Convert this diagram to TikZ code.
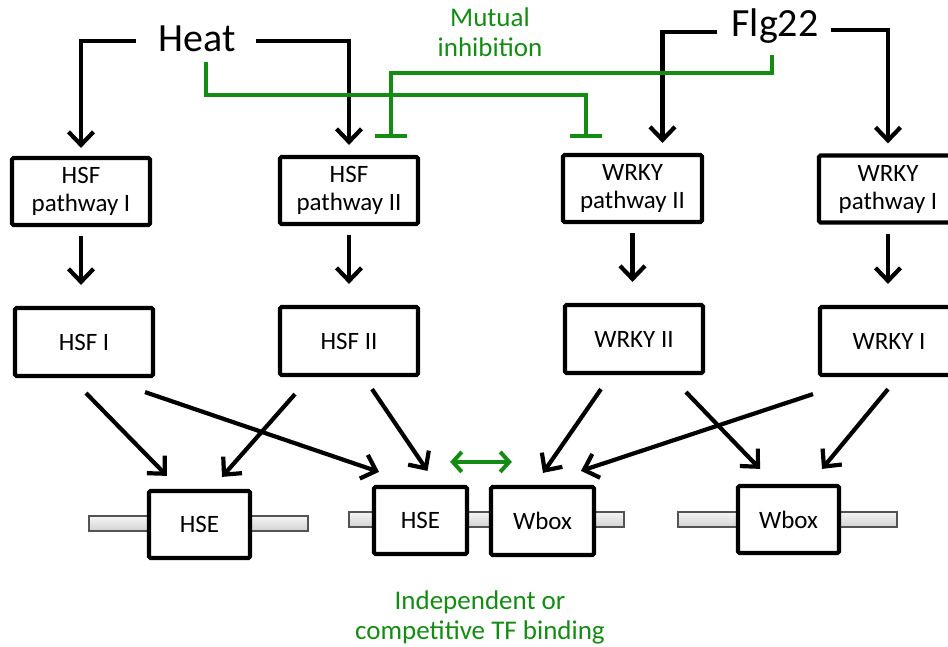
\documentclass[tikz,border=0pt]{standalone}
\usepackage{fontspec}
\setmainfont{Carlito}
\usetikzlibrary{arrows.meta,calc}
\definecolor{inhgreen}{RGB}{20,140,20}
\begin{document}
\begin{tikzpicture}[x=1pt,y=-1pt,
  box/.style={draw=black,line width=4.2pt,rounded corners=1.5pt,fill=white,
    minimum width=138pt,minimum height=67pt,inner sep=0pt,align=center,
    font=\fontsize{25}{28}\selectfont},
  site/.style={box,minimum width=101pt},
  signal/.style={inner sep=0pt,font=\fontsize{40}{42}\selectfont},
  act/.style={line width=4.2pt,-{Straight Barb[length=13pt,width=25pt]}},
  inhib/.style={inhgreen,line width=4pt,-{Bar[width=32pt]}},
  dna/.style={draw=gray!65!black,line width=1.4pt,top color=gray!8,bottom color=gray!35},
  gtext/.style={inhgreen,align=center,font=\fontsize{27}{30}\selectfont}]
\useasboundingbox (0,0) rectangle (948,647);

% DNA strands
\path[dna] (89,516) rectangle (308,531);
\path[dna] (349,512) rectangle (624,527);
\path[dna] (678,512) rectangle (897,527);

% signals
\node[signal] (heat) at (197,39) {Heat};
\node[signal] (flg) at (775,26) {Flg22};
\node[gtext] (mutual) at (490,32) {Mutual\\inhibition};

% pathway boxes
\node[box] (hp1) at (81,191.5) {HSF\\pathway I};
\node[box] (hp2) at (349,190.5) {HSF\\pathway II};
\node[box,minimum width=139pt] (wp2) at (632.5,188.5) {WRKY\\pathway II};
\node[box] (wp1) at (888,189) {WRKY\\pathway I};

% transcription factors
\node[box,minimum height=68pt] (h1) at (84,342) {HSF I};
\node[box,minimum height=68pt] (h2) at (349,341) {HSF II};
\node[box,minimum height=68pt] (w2) at (634,339) {WRKY II};
\node[box,minimum height=68pt] (w1) at (889,341) {WRKY I};

% binding sites
\node[site] (hse1) at (199.5,524.5) {HSE};
\node[site,minimum width=93pt] (hse2) at (420.5,520.5) {HSE};
\node[site,minimum width=103pt,minimum height=68pt] (wbox2) at (542.5,521) {Wbox};
\node[site] (wbox3) at (788.5,519.5) {Wbox};

\node[gtext] (binding) at (480,617) {Independent or\\competitive TF binding};

% signal inputs
\draw[act,shorten >=8pt] ($(heat.west)+(-22,2)$) -| (hp1.north);
\draw[act,shorten >=10pt] ($(heat.east)+(20,2)$) -| (hp2.north);
\draw[act,shorten >=10pt] ($(flg.west)+(-14,6)$) -| ([xshift=30pt]wp2.north);
\draw[act,shorten >=10pt] ($(flg.east)+(12,4)$) -| (wp1.north);

% mutual inhibition
\draw[inhib,shorten >=15pt] ($(heat.center)+(9,23)$) |- ++(0,33) -| ([xshift=-46.5pt]wp2.north);
\draw[inhib,shorten >=17pt] ($(flg.center)+(-3,29)$) |- ++(0,18) -| ([xshift=42pt]hp2.north);

% pathway -> transcription factor
\foreach \a/\b in {hp1/h1,hp2/h2,wp2/w2,wp1/w1}
  \draw[act,shorten <=9pt,shorten >=21pt] (\a.south) -- (\a.south |- \b.north);

% transcription factor -> binding site
\draw[act] ($(h1.south)+(2,15)$) -- ($(hse1.north)+(-32.5,-13)$);
\draw[act] ($(h1.south)+(61,14)$) -- ($(hse2.north)+(-41.5,-13)$);
\draw[act] ($(h2.south)+(-54,17)$) -- ($(hse1.north)+(22.5,-12)$);
\draw[act] ($(h2.south)+(23,12)$) -- ($(hse2.north)+(7,-14)$);
\draw[act] ($(w2.south)+(-33,14)$) -- ($(wbox2.north)+(0.5,-12)$);
\draw[act] ($(w2.south)+(52,17)$) -- ($(wbox3.north)+(-28.5,-15)$);
\draw[act] ($(w1.south)+(-76,17)$) -- ($(wbox2.north)+(38.5,-14)$);
\draw[act] ($(w1.south)+(-1,12)$) -- ($(wbox3.north)+(33.5,-15)$);

% competition between neighbouring sites
\draw[inhgreen,line width=4pt,{Straight Barb[length=9pt,width=20pt]}-{Straight Barb[length=9pt,width=20pt]}]
  ($(hse2.north east)+(-19,-23)$) -- ($(wbox2.north west)+(23,-23)$);
\end{tikzpicture}
\end{document}
